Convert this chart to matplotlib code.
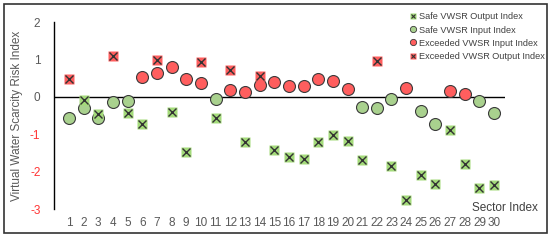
import matplotlib.pyplot as plt
import numpy as np
from matplotlib.patches import Rectangle

plt.rcParams["font.family"] = ["Liberation Sans", "DejaVu Sans"]

SECTORS = np.arange(1, 31)
INPUT_INDEX = [-0.57, -0.30, -0.57, -0.14, -0.11, 0.52, 0.64, 0.81, 0.47, 0.38,
               -0.05, 0.18, 0.14, 0.31, 0.41, 0.28, 0.30, 0.47, 0.42, 0.20,
               -0.26, -0.29, -0.05, 0.23, -0.38, -0.72, 0.16, 0.07, -0.11, -0.44]
OUTPUT_INDEX = [0.47, -0.09, -0.45, 1.10, -0.44, -0.72, 0.98, -0.40, -1.47, 0.92,
                -0.57, 0.72, -1.21, 0.56, -1.42, -1.61, -1.66, -1.21, -1.02, -1.19,
                -1.70, 0.95, -1.85, -2.75, -2.09, -2.33, -0.89, -1.80, -2.43, -2.37]

RED = "#FF5E5E"
GREEN_CIRCLE = "#A9D18E"
GREEN_SQUARE = "#A4DB7A"
EDGE = "#3A3A3A"
GRAY = "#595959"

inp = np.array(INPUT_INDEX)
out = np.array(OUTPUT_INDEX)

fig = plt.figure(figsize=(5.5, 2.4), dpi=100)
ax = fig.add_axes([0.0987, 0.129, 0.8197, 0.779])

# input index: circles
safe_in = inp <= 0
ax.plot(SECTORS[safe_in], inp[safe_in], "o", ms=8.6, mfc=GREEN_CIRCLE, mec=EDGE, mew=0.8, zorder=3)
ax.plot(SECTORS[~safe_in], inp[~safe_in], "o", ms=8.6, mfc=RED, mec=EDGE, mew=0.8, zorder=3)

# output index: filled square with a cross
safe_out = out <= 0
ax.plot(SECTORS[safe_out], out[safe_out], "s", ms=7.2, mfc=GREEN_SQUARE, mec="none", zorder=4)
ax.plot(SECTORS[safe_out], out[safe_out], "x", ms=6, mec="#333333", mew=1.0, zorder=5)
ax.plot(SECTORS[~safe_out], out[~safe_out], "s", ms=7.2, mfc=RED, mec="none", zorder=4)
ax.plot(SECTORS[~safe_out], out[~safe_out], "x", ms=6, mec="#333333", mew=1.0, zorder=5)

ax.axhline(0, color="black", lw=1.0, zorder=2)

ax.set_xlim(0, 30.75)
ax.set_ylim(-3, 2)
ax.set_xticks(SECTORS)
ax.set_xticklabels([str(s) for s in SECTORS], fontsize=8.5, color=GRAY)
ax.set_yticks([-3, -2, -1, 0, 1, 2])
ax.set_yticklabels(["-3", "-2", "-1", "0", "1", "2"], fontsize=8.5)
for lbl, v in zip(ax.get_yticklabels(), [-3, -2, -1, 0, 1, 2]):
    lbl.set_color("#FF3333" if v < 0 else GRAY)
ax.tick_params(axis="both", length=0)
ax.tick_params(axis="y", pad=10)
ax.tick_params(axis="x", pad=6)
for spine in ["top", "right", "bottom"]:
    ax.spines[spine].set_visible(False)
ax.spines["left"].set_color("black")
ax.spines["left"].set_linewidth(1.0)

ax.set_ylabel("Virtual Water Scarcity Risk Index", fontsize=8.5, color=GRAY, labelpad=5)
fig.text(0.978, 0.135, "Sector Index", fontsize=8.5, color="#404040", ha="right", va="center")

# legend
h1 = (ax.plot([], [], "s", ms=4, mfc=GREEN_SQUARE, mec="none")[0],
      ax.plot([], [], "x", ms=3.5, mec="#333333", mew=0.8)[0])
h2 = ax.plot([], [], "o", ms=4.5, mfc=GREEN_CIRCLE, mec=EDGE, mew=0.6)[0]
h3 = ax.plot([], [], "o", ms=4.5, mfc=RED, mec=EDGE, mew=0.6)[0]
h4 = (ax.plot([], [], "s", ms=4, mfc=RED, mec="none")[0],
      ax.plot([], [], "x", ms=3.5, mec="#333333", mew=0.8)[0])
fig.legend([h1, h2, h3, h4],
           ["Safe VWSR Output Index", "Safe VWSR Input Index",
            "Exceeded VWSR Input Index", "Exceeded VWSR Output Index"],
           loc="upper left", bbox_to_anchor=(0.735, 0.975), frameon=False,
           fontsize=6.6, handlelength=0.6, handletextpad=0.3, labelspacing=0.45,
           borderpad=0.2, labelcolor="#404040")

fig.add_artist(Rectangle((4 / 550, 7 / 240), 543 / 550, 229 / 240, transform=fig.transFigure,
                         fill=False, edgecolor="#333333", lw=1.2))

fig.savefig("out.png", dpi=100)
